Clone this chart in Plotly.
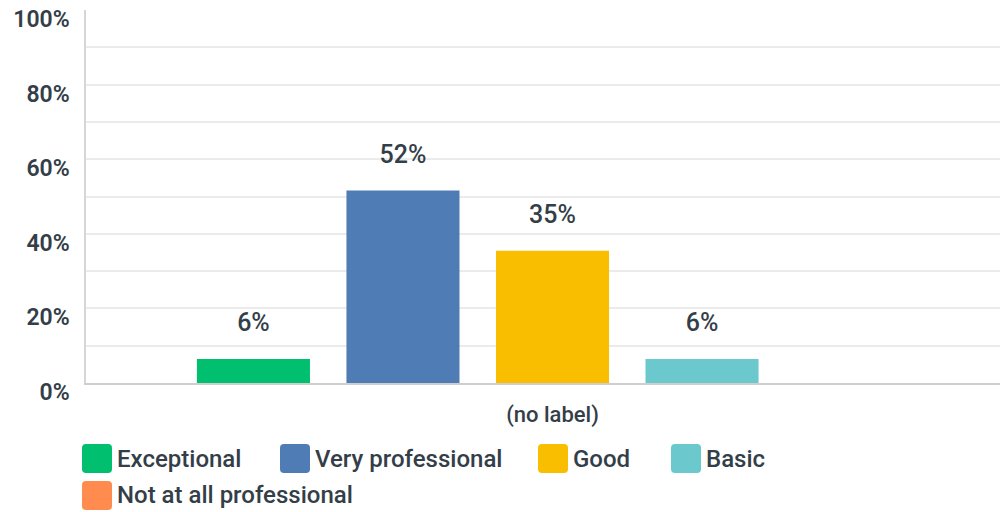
import plotly.graph_objects as go

# survey answer shares (%), one bar per answer
category = ["(no label)"]
answers = ["Exceptional", "Very professional", "Good", "Basic", "Not at all professional"]
shares = [6.45, 51.61, 35.48, 6.45, 0]
colors = ["#00bf6f", "#507cb6", "#f9be00", "#6bc8cd", "#ff8b4f"]

grid_vals = list(range(0, 100, 10))
tick_vals = list(range(0, 101, 20))
tick_text = [f"{v}%" for v in tick_vals]

# page layout, in pixels
W, H = 1000, 512
L, R, T, B = 86, 0, 10, 129
legend_pos = [(82, 444), (280, 444), (538, 444), (671, 444), (82, 481)]  # swatch top-left
SW, SH, RAD = 30, 29, 4

text_color = "#333e48"
font_family = "Roboto, Arial, sans-serif"

pw, ph = W - L - R, H - T - B


def px_to_paper(x, y):
    return (x - L) / pw, (H - B - y) / ph


def rounded_rect(x, y, w, h, r):
    pts = []
    x0, y0 = px_to_paper(x, y)
    x1, y1 = px_to_paper(x + w, y + h)
    rx, ry = r / pw, r / ph
    pts.append(f"M{x0 + rx},{y0}")
    pts.append(f"L{x1 - rx},{y0} Q{x1},{y0} {x1},{y0 - ry}")
    pts.append(f"L{x1},{y1 + ry} Q{x1},{y1} {x1 - rx},{y1}")
    pts.append(f"L{x0 + rx},{y1} Q{x0},{y1} {x0},{y1 + ry}")
    pts.append(f"L{x0},{y0 - ry} Q{x0},{y0} {x0 + rx},{y0} Z")
    return " ".join(pts)


fig = go.Figure()

for name, val, col in zip(answers, shares, colors):
    fig.add_trace(go.Bar(
        x=category, y=[val], name=name,
        marker=dict(color=col, line=dict(width=0)),
        showlegend=False, hoverinfo="skip",
    ))

# value labels, grouped the same way as the bars; the hidden marker lifts the text.
# they sit on y2 (same range as y) so that the label axis gets drawn
for name, val in zip(answers, shares):
    fig.add_trace(go.Scatter(
        x=category, y=[val], mode="markers+text", yaxis="y2",
        text=[f"{round(val)}%" if val > 0 else ""], textposition="top center",
        marker=dict(size=33, opacity=0),
        textfont=dict(size=25, color=text_color, family=font_family, weight=500),
        showlegend=False, hoverinfo="skip", cliponaxis=False,
    ))

# legend drawn by hand so the swatches can be as big as in the original
for name, col, (lx, ly) in zip(answers, colors, legend_pos):
    fig.add_shape(type="path", xref="paper", yref="paper",
                  path=rounded_rect(lx, ly, SW, SH, RAD),
                  fillcolor=col, line=dict(width=0))
    tx, ty = px_to_paper(lx + SW + 3, ly + SH / 2)
    fig.add_annotation(x=tx, y=ty, xref="paper", yref="paper", text=name,
                       showarrow=False, xanchor="left", yanchor="middle",
                       font=dict(size=24, color=text_color, weight=500))

fig.update_layout(
    width=W, height=H,
    margin=dict(l=L, r=R, t=T, b=B, autoexpand=False),
    paper_bgcolor="white", plot_bgcolor="white",
    font=dict(family=font_family, color=text_color, size=20),
    showlegend=False,
    barmode="group", bargap=0.182, bargroupgap=0.244,
    scattermode="group", scattergap=0.182,
    xaxis=dict(
        type="category", range=[-0.5104, 0.4896],
        showline=True, linecolor="#cfcfcf", linewidth=2,
        showgrid=False, ticks="", ticklabelstandoff=11,
        tickfont=dict(size=22, color=text_color, weight=500),
    ),
    yaxis=dict(
        range=[0, 100], tickvals=grid_vals, showticklabels=False,
        showgrid=True, gridcolor="#ebebeb", gridwidth=1.5,
        zeroline=False, showline=False, ticks="",
    ),
    yaxis2=dict(
        overlaying="y", side="left", range=[0, 100],
        tickvals=tick_vals, ticktext=tick_text,
        showgrid=False, zeroline=False,
        showline=True, linecolor="#d6d6d6", linewidth=1.5,
        ticks="", ticklabelshift=9, ticklabelstandoff=10,
        ticklabeloverflow="allow",
        tickfont=dict(size=23, color=text_color, weight=600),
    ),
)

fig.write_html(
    "out.html",
    config={"displayModeBar": False},
    post_script="document.body.style.margin='0px';",
)
